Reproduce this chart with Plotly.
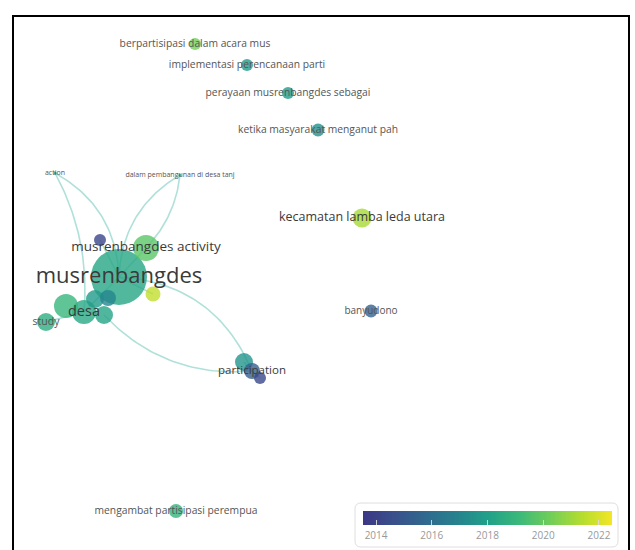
import numpy as np
import plotly.graph_objects as go

# ---- VOSviewer-style overlay map: keywords, map coordinates, weights, avg. publication year
node_label = [
    "berpartisipasi dalam acara mus",
    "implementasi perencanaan parti",
    "perayaan musrenbangdes sebagai",
    "ketika masyarakat menganut pah",
    "action",
    "dalam pembangunan di desa tanj",
    "kecamatan lamba leda utara",
    "musrenbangdes activity",
    "musrenbangdes",
    "desa",
    "study",
    "participation",
    "banyudono",
    "mengambat partisipasi perempua",
    "", "", "", "", "", "", "", "",
]
map_x = [195, 247, 288, 318, 55, 180, 362, 146, 119, 84, 46, 252, 371, 176,
         100, 153, 66, 104, 95, 244, 260, 108]
map_y = [44, 65, 93, 130, 173, 175, 218, 248, 277, 312, 322, 371, 311, 511,
         240, 294, 306, 315, 299, 362, 378, 298]
weight = [6, 6, 6, 6.5, 1.5, 1.5, 9.5, 13, 28, 12, 9, 8, 6.5, 7,
          6, 7.5, 12, 9, 9, 9, 6, 8]
avg_year = [2020.3, 2017.8, 2017.8, 2017.4, 2017.8, 2018.0, 2021.2, 2019.8, 2018.3,
            2018.4, 2018.6, 2015.3, 2015.5, 2018.9,
            2014.2, 2021.6, 2019.0, 2018.2, 2017.8, 2017.6, 2014.3, 2017.0]
label_size = [10.3, 10.3, 10.3, 10.3, 7, 7, 12.5, 13.5, 22, 14.5, 10.5, 11.5, 10, 10.3,
              0, 0, 0, 0, 0, 0, 0, 0]

# links: (source, target, curvature)
links = [
    (4, 9, -0.15), (4, 8, -0.28),
    (5, 8, 0.27), (5, 7, -0.17),
    (8, 11, -0.31), (17, 11, 0.24),
    (8, 7, 0.0), (8, 9, 0.0), (8, 15, 0.0), (8, 14, 0.0), (9, 10, 0.0),
    (11, 19, 0.0), (11, 20, 0.0),
]

year_min, year_max = 2013.53, 2022.47
year_ticks = [2014, 2016, 2018, 2020, 2022]

# viridis-like overlay palette
palette = [
    [0.00, "#3b3785"], [0.12, "#3a4f8b"], [0.25, "#30698e"], [0.38, "#26838e"],
    [0.50, "#20a089"], [0.63, "#3bb97a"], [0.75, "#6fcd5a"], [0.88, "#b4dd2e"],
    [1.00, "#f3e625"],
]

fig = go.Figure()

# curved links (quadratic Bezier through a bent control point)
t = np.linspace(0, 1, 40)
for s, d, k in links:
    p0 = np.array([map_x[s], map_y[s]], float)
    p1 = np.array([map_x[d], map_y[d]], float)
    vec = p1 - p0
    length = np.hypot(*vec)
    normal = np.array([-vec[1], vec[0]]) / length
    ctrl = (p0 + p1) / 2 + k * length * normal
    pts = ((1 - t) ** 2)[:, None] * p0 + (2 * t * (1 - t))[:, None] * ctrl + (t ** 2)[:, None] * p1
    fig.add_trace(go.Scatter(
        x=pts[:, 0], y=pts[:, 1], mode="lines",
        line=dict(color="rgba(110,198,185,0.55)", width=1.6),
        hoverinfo="skip", showlegend=False))

# nodes, biggest first so smaller ones sit on top
order = sorted(range(len(map_x)), key=lambda i: -weight[i])
fig.add_trace(go.Scatter(
    x=[map_x[i] for i in order], y=[map_y[i] for i in order], mode="markers",
    marker=dict(size=[2 * weight[i] for i in order],
                color=[avg_year[i] for i in order],
                colorscale=palette, cmin=year_min, cmax=year_max,
                opacity=0.8, line=dict(width=0)),
    text=[node_label[i] for i in order], hoverinfo="text", showlegend=False))

# keyword labels
lab = [i for i in range(len(node_label)) if node_label[i]]
fig.add_trace(go.Scatter(
    x=[map_x[i] for i in lab], y=[map_y[i] for i in lab], mode="text",
    text=[node_label[i] for i in lab], textposition="middle center",
    textfont=dict(family="Open Sans", size=[label_size[i] for i in lab],
                  color=["#555" if label_size[i] < 11 else "#3a3a3a" for i in lab]),
    hoverinfo="skip", showlegend=False))

# colour scale bar for average publication year
grid = np.linspace(year_min, year_max, 200)
fig.add_trace(go.Heatmap(
    x=grid, y=[0], z=[grid], colorscale=palette, zmin=year_min, zmax=year_max,
    showscale=False, hoverinfo="skip", xaxis="x2", yaxis="y2"))

W, H = 635, 550
fig.update_layout(
    width=W, height=H, margin=dict(l=0, r=0, t=0, b=0),
    paper_bgcolor="white", plot_bgcolor="white",
    xaxis=dict(range=[0, W], visible=False, domain=[0, 1]),
    yaxis=dict(range=[H, 0], visible=False, domain=[0, 1]),
    xaxis2=dict(domain=[363 / W, 612 / W], anchor="y2", range=[year_min, year_max],
                tickvals=year_ticks, ticks="inside", ticklen=5,
                tickcolor="rgba(220,220,220,0.9)", showline=False, showgrid=False,
                zeroline=False, ticklabelstandoff=3,
                tickfont=dict(family="Open Sans", size=10, color="#999")),
    yaxis2=dict(domain=[1 - 525 / H, 1 - 511 / H], anchor="x2", visible=False,
                range=[-0.5, 0.5]),
    shapes=[
        dict(type="rect", xref="x", yref="y", x0=13, x1=629, y0=16, y1=600,
             line=dict(color="black", width=2), layer="above"),
        dict(type="path", xref="x", yref="y",
             path="M 361 503 L 612 503 Q 618 503 618 509 L 618 541 Q 618 547 612 547 "
                  "L 361 547 Q 355 547 355 541 L 355 509 Q 355 503 361 503 Z",
             line=dict(color="#dedede", width=1), fillcolor="white", layer="below"),
    ],
)

fig.write_html("out.html")
